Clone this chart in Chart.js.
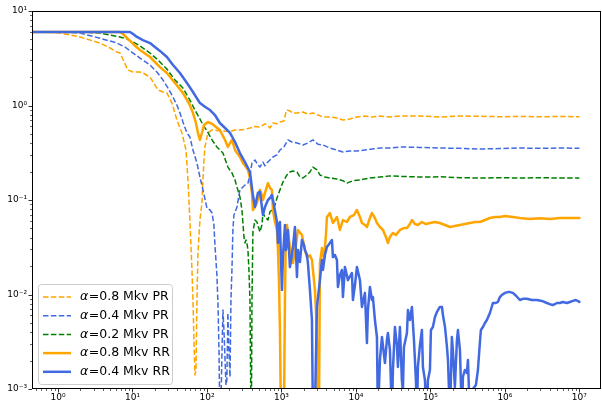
<!DOCTYPE html>
<html>
<head>
<meta charset="utf-8">
<script src="https://cdn.jsdelivr.net/npm/chart.js@4.4.0/dist/chart.umd.min.js"></script>
<style>
  html, body { margin: 0; padding: 0; background: #fff; }
  #wrap { width: 602px; height: 405px; }
</style>
</head>
<body>
<div id="wrap"><canvas id="c" width="602" height="405"></canvas></div>
<script>
// [x, y] pairs
const pr08 = [[0.45,6.0],[0.67,6.0],[1.06,5.85],[1.97,5.31],[3.66,4.58],[5.0,4.06],[6.19,3.68],[6.8,3.59],[8.7,2.37],[10.2,2.26],[12.6,2.26],[13.8,2.21],[17.2,2.0],[20,1.65],[22,1.46],[25.7,1.39],[29,1.36],[33.9,1.06],[39.5,0.703],[43.4,0.578],[46.2,0.512],[52.3,0.338],[55.6,0.163],[59,0.0614],[62.9,0.0182],[64.9,0.00875],[66.9,0.0033],[69,0.00141],[71.2,0.00159],[73.4,0.00875],[75.7,0.0275],[80.5,0.0614],[85.7,0.093],[88.4,0.163],[91.2,0.265],[94,0.364],[103,0.512],[117,0.551],[149,0.54],[204,0.53],[238,0.551],[277,0.551],[324,0.56],[378,0.578],[441,0.6],[514,0.592],[601,0.64],[659,0.61],[701,0.578],[769,0.653],[871,0.64],[955,0.669],[1080,0.686],[1150,0.853],[1185,0.896],[1300,0.875],[1427,0.833],[1615,0.833],[1944,0.853],[2268,0.81],[2647,0.833],[3090,0.793],[3606,0.755],[4477,0.755],[5559,0.738],[6690,0.703],[8310,0.72],[10310,0.755],[13210,0.774],[16400,0.755],[21000,0.774],[28600,0.755],[39000,0.774],[72300,0.774],[134000,0.755],[249000,0.774],[461000,0.77],[857000,0.76],[1.59e6,0.765],[2.95e6,0.76],[5.47e6,0.765],[1e7,0.76]];

const pr04 = [[0.45,6.0],[1.06,6.0],[1.97,5.85],[3.66,5.15],[6.19,4.58],[7.93,4.16],[10.2,3.59],[12.6,3.18],[17.2,2.68],[21.3,2.26],[25.7,1.86],[30,1.53],[35,1.23],[39.5,1.01],[43.4,0.833],[47.6,0.669],[53.9,0.512],[59,0.464],[64.9,0.338],[73.4,0.246],[80.5,0.175],[88.4,0.128],[100,0.082],[110,0.0784],[117,0.0728],[124,0.0544],[128,0.0334],[136,0.0161],[141,0.00738],[145,0.00259],[149,0.0005],[154,0.0007],[159,0.0024],[164,0.00686],[169,0.00421],[175,0.00203],[180,0.0011],[185,0.00124],[191,0.00637],[197,0.00259],[204,0.00134],[210,0.00875],[217,0.0195],[223,0.0482],[230,0.0693],[253,0.0843],[277,0.128],[304,0.137],[324,0.144],[355,0.151],[378,0.184],[402,0.246],[441,0.265],[484,0.235],[514,0.223],[565,0.252],[601,0.23],[638,0.246],[701,0.265],[769,0.285],[871,0.3],[955,0.338],[1080,0.364],[1222,0.432],[1383,0.411],[1615,0.401],[1944,0.382],[2268,0.401],[2647,0.432],[3090,0.39],[3606,0.382],[4477,0.355],[5559,0.338],[6690,0.322],[8310,0.33],[10310,0.33],[13210,0.338],[16400,0.346],[21000,0.355],[28600,0.355],[39000,0.364],[72300,0.36],[134000,0.355],[249000,0.352],[461000,0.346],[857000,0.35],[1.59e6,0.355],[2.95e6,0.352],[5.47e6,0.355],[1e7,0.352]];

const pr02 = [[0.45,6.0],[1.97,6.0],[3.66,5.85],[5.0,5.57],[6.8,5.31],[8.44,5.05],[10.2,4.7],[12.6,4.27],[17.2,3.59],[22,3.03],[29,2.43],[37.2,1.86],[47.6,1.53],[59,1.14],[69,0.896],[80.5,0.72],[88.4,0.622],[100,0.54],[117,0.432],[136,0.364],[164,0.314],[191,0.223],[217,0.193],[238,0.163],[253,0.137],[277,0.108],[295,0.0784],[314,0.0406],[324,0.0351],[334,0.0377],[344,0.0351],[355,0.0296],[366,0.0182],[378,0.00875],[390,0.0005],[396,0.0008],[402,0.00875],[414,0.046],[441,0.0614],[469,0.0585],[514,0.0459],[547,0.0544],[565,0.0728],[601,0.0661],[659,0.0614],[701,0.075],[745,0.0784],[818,0.0885],[871,0.105],[955,0.128],[1047,0.155],[1185,0.184],[1300,0.198],[1427,0.203],[1615,0.198],[1772,0.175],[1944,0.171],[2199,0.184],[2413,0.198],[2647,0.223],[2996,0.208],[3287,0.184],[3836,0.175],[4477,0.171],[5559,0.167],[6690,0.16],[7570,0.151],[9110,0.16],[11320,0.163],[15410,0.171],[21000,0.175],[28600,0.18],[39000,0.178],[72300,0.175],[134000,0.176],[249000,0.172],[461000,0.171],[857000,0.172],[1.59e6,0.171],[2.95e6,0.172],[5.47e6,0.171],[1e7,0.171]];

const rr08 = [[0.45,6.0],[6.8,6.0],[7.46,5.71],[8.44,5.18],[10.2,4.48],[12.6,3.87],[17.2,3.26],[23.4,2.55],[29,2.21],[37.2,1.73],[47.6,1.36],[59,1.01],[64.9,0.833],[71.2,0.653],[75.7,0.512],[80.5,0.432],[85.7,0.512],[91.2,0.622],[103,0.669],[117,0.64],[132,0.592],[149,0.551],[164,0.475],[175,0.432],[191,0.364],[204,0.401],[217,0.432],[238,0.338],[277,0.285],[304,0.246],[334,0.223],[355,0.208],[378,0.171],[402,0.119],[414,0.0784],[441,0.0843],[469,0.093],[514,0.128],[547,0.113],[565,0.1],[601,0.119],[659,0.151],[701,0.134],[745,0.128],[769,0.0784],[818,0.0585],[871,0.0482],[898,0.0296],[926,0.0142],[955,0.0042],[985,0.0005],[1080,0.0005],[1114,0.00875],[1149,0.0505],[1185,0.0544],[1300,0.0318],[1427,0.0215],[1565,0.0334],[1665,0.0482],[1885,0.0426],[2067,0.0296],[2199,0.0249],[2413,0.026],[2567,0.0232],[2647,0.0182],[2816,0.0112],[2905,0.00686],[2996,0.0029],[3090,0.0005],[3187,0.0005],[3287,0.0215],[3497,0.031],[3719,0.0238],[3956,0.0426],[4080,0.0661],[4477,0.0728],[4912,0.0571],[5559,0.0661],[6100,0.0482],[6690,0.0614],[7570,0.0585],[8310,0.0661],[9400,0.0693],[10310,0.0784],[11320,0.0661],[12040,0.0571],[13210,0.0544],[14050,0.0518],[15410,0.0645],[16400,0.0728],[17990,0.0645],[19140,0.0571],[21000,0.0518],[23040,0.0482],[25270,0.0406],[26880,0.0351],[28610,0.0406],[31380,0.0448],[34440,0.0426],[38960,0.0482],[44100,0.0505],[48400,0.0505],[53100,0.0557],[56500,0.0614],[61900,0.0557],[67900,0.0544],[76900,0.0585],[87000,0.0557],[98500,0.0571],[115000,0.0585],[134000,0.0571],[157000,0.0544],[183000,0.0518],[213000,0.053],[249000,0.0544],[290000,0.0557],[339000,0.0571],[396000,0.0585],[461000,0.0585],[539000,0.0614],[629000,0.0645],[734000,0.0661],[857000,0.0661],[1e6,0.0678],[1.28e6,0.0661],[1.59e6,0.0645],[2.17e6,0.063],[2.95e6,0.064],[4.02e6,0.063],[5.47e6,0.0645],[7.45e6,0.0645],[1e7,0.0645]];

const rr04 = [[0.45,6.0],[9.27,6.0],[10.2,5.71],[11.5,5.31],[13.8,4.93],[17.2,4.58],[20,4.16],[23.4,3.78],[29,3.26],[35,2.68],[43.4,2.21],[53.9,1.73],[64.9,1.39],[80.5,1.06],[94,0.97],[110,0.896],[128,0.793],[149,0.653],[175,0.578],[204,0.512],[238,0.411],[277,0.314],[324,0.252],[378,0.198],[402,0.134],[414,0.113],[441,0.0843],[484,0.119],[514,0.122],[565,0.0693],[601,0.0843],[659,0.1],[701,0.105],[745,0.113],[793,0.0885],[871,0.0585],[898,0.0351],[926,0.0544],[955,0.0585],[985,0.0232],[1016,0.0112],[1047,0.0249],[1114,0.0544],[1149,0.0296],[1185,0.0351],[1222,0.0482],[1300,0.0195],[1383,0.0262],[1427,0.0318],[1518,0.0518],[1615,0.0153],[1665,0.0296],[1772,0.0221],[1885,0.0377],[2005,0.0334],[2067,0.0296],[2199,0.0262],[2268,0.0215],[2413,0.0112],[2567,0.00537],[2647,0.0005],[2816,0.0006],[2996,0.0074],[3287,0.0142],[3497,0.0232],[3606,0.0182],[3836,0.0262],[4080,0.0318],[4477,0.0351],[4763,0.0377],[4912,0.0249],[5225,0.0262],[5559,0.0232],[5733,0.012],[6100,0.0161],[6490,0.0182],[6690,0.0094],[7120,0.0195],[7810,0.0142],[8310,0.0155],[8840,0.0169],[9110,0.00875],[9700,0.0126],[10310,0.0195],[11320,0.0142],[12040,0.00738],[13210,0.0104],[14050,0.00307],[14490,0.00686],[15410,0.012],[16400,0.00875],[16910,0.0094],[17990,0.00537],[19140,0.00355],[19740,0.0005],[21000,0.00203],[22340,0.00355],[23040,0.0029],[24510,0.00188],[26070,0.0033],[26880,0.00392],[28610,0.00259],[30420,0.0005],[31380,0.00159],[33390,0.00453],[35500,0.0029],[36630,0.00171],[38960,0.00453],[41400,0.00124],[42700,0.00095],[44100,0.00278],[48400,0.00392],[49900,0.00686],[53100,0.00537],[56500,0.00738],[60100,0.0033],[63900,0.00124],[65900,0.0005],[67900,0.00171],[72300,0.0029],[76900,0.00421],[79300,0.00171],[84400,0.00124],[89700,0.0005],[92500,0.00124],[98500,0.00159],[101600,0.00421],[108000,0.00453],[115000,0.00578],[122000,0.0065],[134000,0.00738],[143000,0.00738],[147000,0.0061],[157000,0.00453],[166000,0.0029],[172000,0.00203],[183000,0.0005],[194000,0.00355],[200000,0.00259],[213000,0.00105],[227000,0.0033],[234000,0.00421],[249000,0.00259],[265000,0.0005],[273000,0.00134],[290000,0.00159],[309000,0.00148],[319000,0.00203],[339000,0.0005],[372000,0.001],[408000,0.0011],[434000,0.00159],[461000,0.00307],[476000,0.00421],[507000,0.00453],[539000,0.005],[573000,0.00537],[629000,0.00637],[690000,0.00813],[757000,0.00813],[805000,0.00834],[857000,0.0094],[912000,0.0099],[1e6,0.0104],[1.1e6,0.0106],[1.17e6,0.0106],[1.28e6,0.0104],[1.41e6,0.0097],[1.59e6,0.00875],[1.74e6,0.009],[1.97e6,0.009],[2.3e6,0.00875],[2.69e6,0.00875],[3.14e6,0.00855],[3.66e6,0.00813],[4.02e6,0.0079],[4.41e6,0.00774],[4.99e6,0.00813],[5.47e6,0.00813],[6e6,0.00834],[6.8e6,0.00813],[7.45e6,0.00834],[8.18e6,0.00855],[8.98e6,0.00875],[1e7,0.00834]];

const seriesLabels = ['α=0.8 Mkv PR', 'α=0.4 Mkv PR', 'α=0.2 Mkv PR', 'α=0.8 Mkv RR', 'α=0.4 Mkv RR'];
const xTickValues = [1, 10, 100, 1e3, 1e4, 1e5, 1e6, 1e7];
const xTickLabels = ['10⁰', '10¹', '10²', '10³', '10⁴', '10⁵', '10⁶', '10⁷'];
const yTickValues = [1e-3, 1e-2, 1e-1, 1, 10];
const yTickLabels = ['10⁻³', '10⁻²', '10⁻¹', '10⁰', '10¹'];

const ORANGE = '#ffa500', BLUE = '#4169e1', GREEN = '#008000';
const DASH = [5.5, 2.4];

function toPoints(arr) {
  return arr.map(p => ({x: p[0], y: p[1]}));
}

function mkSet(label, arr, color, dashed, order) {
  return {
    label: label,
    data: toPoints(arr),
    borderColor: color,
    backgroundColor: color,
    borderWidth: dashed ? 1.5 : 2.5,
    borderDash: dashed ? DASH : [],
    borderCapStyle: dashed ? 'butt' : 'round',
    borderJoinStyle: 'round',
    pointRadius: 0,
    tension: 0,
    fill: false,
    clip: 0,
    order: order
  };
}

// ticks, frame and legend, drawn by hand to look like matplotlib
const decor = {
  id: 'decor',
  afterDraw(chart) {
    const ctx = chart.ctx, a = chart.chartArea;
    const xs = chart.scales.x, ys = chart.scales.y;
    ctx.save();
    ctx.strokeStyle = '#000';
    ctx.setLineDash([]);

    ctx.lineWidth = 0.8;
    for (let e = -1; e <= 7; e++) {
      for (let m = 1; m <= 9; m++) {
        const v = m * Math.pow(10, e);
        if (v < xs.min || v > xs.max) continue;
        const px = Math.round(xs.getPixelForValue(v)) + 0.5;
        const len = m === 1 ? 3.5 : 2;
        ctx.lineWidth = m === 1 ? 0.8 : 0.6;
        ctx.beginPath();
        ctx.moveTo(px, a.bottom);
        ctx.lineTo(px, a.bottom + len);
        ctx.stroke();
      }
    }
    for (let e = -3; e <= 1; e++) {
      for (let m = 1; m <= 9; m++) {
        const v = m * Math.pow(10, e);
        if (v < ys.min || v > ys.max + 1e-9) continue;
        const py = Math.round(ys.getPixelForValue(v)) + 0.5;
        const len = m === 1 ? 3.5 : 2;
        ctx.lineWidth = m === 1 ? 0.8 : 0.6;
        ctx.beginPath();
        ctx.moveTo(a.left, py);
        ctx.lineTo(a.left - len, py);
        ctx.stroke();
      }
    }
    ctx.lineWidth = 1;
    ctx.strokeRect(a.left + 0.5, a.top + 0.5, a.right - a.left - 1, a.bottom - a.top - 1);

    // legend
    const lx = a.left + 6, ly = a.bottom - 105, lw = 134, lh = 100;
    ctx.beginPath();
    ctx.roundRect(lx + 0.5, ly + 0.5, lw, lh, 3);
    ctx.fillStyle = 'rgba(255,255,255,0.8)';
    ctx.fill();
    ctx.strokeStyle = '#cccccc';
    ctx.lineWidth = 1;
    ctx.stroke();

    const sets = chart.data.datasets;
    ctx.textBaseline = 'middle';
    ctx.textAlign = 'left';
    sets.forEach((ds, i) => {
      const yy = ly + 13 + i * 18.7;
      ctx.beginPath();
      ctx.strokeStyle = ds.borderColor;
      ctx.lineWidth = ds.borderWidth;
      ctx.setLineDash(ds.borderDash);
      ctx.lineCap = 'butt';
      ctx.moveTo(lx + 5, yy);
      ctx.lineTo(lx + 33, yy);
      ctx.stroke();
      ctx.setLineDash([]);
      const txt = ds.label;
      ctx.fillStyle = '#000';
      ctx.font = 'italic 12.5px "DejaVu Sans"';
      const first = txt.charAt(0);
      ctx.fillText(first, lx + 42, yy);
      const w = ctx.measureText(first).width;
      ctx.font = '12.5px "DejaVu Sans"';
      ctx.fillText(txt.slice(1), lx + 42 + w + 0.5, yy);
    });
    ctx.restore();
  }
};

const chart = new Chart(document.getElementById('c'), {
  type: 'line',
  data: {
    datasets: [
      mkSet(seriesLabels[0], pr08, ORANGE, true, 5),
      mkSet(seriesLabels[1], pr04, BLUE, true, 4),
      mkSet(seriesLabels[2], pr02, GREEN, true, 3),
      mkSet(seriesLabels[3], rr08, ORANGE, false, 2),
      mkSet(seriesLabels[4], rr04, BLUE, false, 1)
    ]
  },
  options: {
    responsive: false,
    animation: false,
    devicePixelRatio: 1,
    layout: { padding: { top: 11, right: 1, left: 0, bottom: 0 } },
    plugins: {
      legend: { display: false },
      tooltip: { enabled: false }
    },
    scales: {
      x: {
        type: 'logarithmic',
        min: 0.448,
        max: 1.95e7,
        grid: { display: false, drawTicks: false },
        border: { display: false },
        afterBuildTicks: s => { s.ticks = xTickValues.map(v => ({value: v})); },
        afterFit: s => { s.height = 16; },
        ticks: {
          autoSkip: false,
          maxRotation: 0,
          padding: 3,
          color: '#000',
          font: { family: 'DejaVu Sans', size: 9 },
          callback: (v) => xTickLabels[xTickValues.indexOf(v)] || ''
        }
      },
      y: {
        type: 'logarithmic',
        min: 1e-3,
        max: 10,
        grid: { display: false, drawTicks: false },
        border: { display: false },
        afterBuildTicks: s => { s.ticks = yTickValues.map(v => ({value: v})); },
        afterFit: s => { s.width = 32; },
        ticks: {
          autoSkip: false,
          padding: 5,
          color: '#000',
          font: { family: 'DejaVu Sans', size: 9 },
          callback: (v) => {
            const i = yTickValues.findIndex(t => Math.abs(Math.log10(t) - Math.log10(v)) < 1e-6);
            return i >= 0 ? yTickLabels[i] : '';
          }
        }
      }
    }
  },
  plugins: [decor]
});
</script>
</body>
</html>
